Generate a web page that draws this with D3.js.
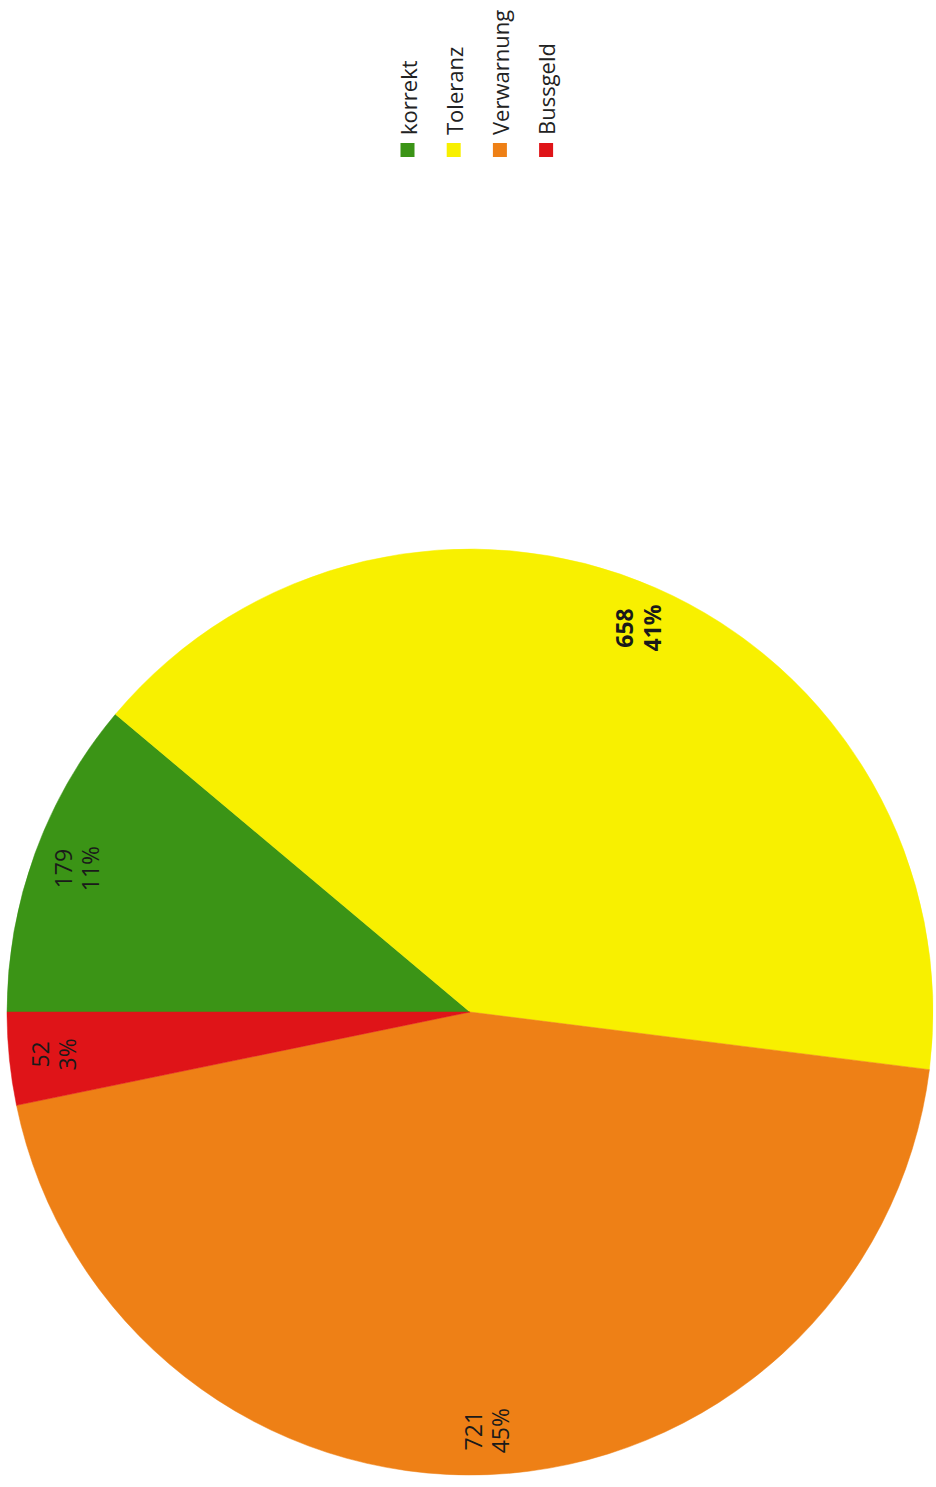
<!DOCTYPE html>
<html>
<head>
<meta charset="utf-8">
<script src="https://cdn.jsdelivr.net/npm/d3@7"></script>
<style>
    body { margin: 0; background: #fff; }
    svg { display: block; }
    .legend-text { font-family: "Open Sans", sans-serif; font-size: 22px; fill: #222; }
    .value-label { font-family: "Open Sans", sans-serif; font-size: 23px; fill: #1a1a1a; }
</style>
</head>
<body>
<div id="chart"></div>
<script>
// Pie chart, page is rotated 90deg (chart drawn in landscape, turned CCW)

const categories = ["korrekt", "Toleranz", "Verwarnung", "Bussgeld"];
const values = [179, 658, 721, 52];
const colors = ["#3b9416", "#f8f000", "#ee8016", "#df1418"];

const width = 936, height = 1487;

const config = {
    cx: 470,       // page x of pie centre
    cy: 1012,      // page y of pie centre
    radius: 463,
    labelFactor: 0.905
};

const svg = d3.select("#chart")
    .append("svg")
    .attr("width", width)
    .attr("height", height);

// landscape frame: u along page (bottom -> top), v along page x
const g = svg.append("g")
    .attr("transform", `translate(0,${height}) rotate(-90)`);

const total = d3.sum(values);
const data = categories.map((c, i) => ({ name: c, value: values[i], color: colors[i] }));

const pie = d3.pie().sort(null).value(d => d.value);
const arcs = pie(data);

const arc = d3.arc().innerRadius(0).outerRadius(config.radius);
const labelArc = d3.arc()
    .innerRadius(config.radius * config.labelFactor)
    .outerRadius(config.radius * config.labelFactor);

const pieG = g.append("g")
    .attr("transform", `translate(${height - config.cy},${config.cx})`);

pieG.selectAll(".slice")
    .data(arcs)
    .enter()
    .append("path")
    .attr("class", "slice")
    .attr("d", arc)
    .attr("fill", d => d.data.color)
    .attr("stroke", d => d.data.color)
    .attr("stroke-width", 0.5);

// value + percent labels
const labels = pieG.selectAll(".value-label")
    .data(arcs)
    .enter()
    .append("text")
    .attr("class", "value-label")
    .attr("transform", d => `translate(${labelArc.centroid(d)})`)
    .attr("text-anchor", "middle")
    .style("font-weight", d => d.data.name === "Toleranz" ? "700" : "400");

labels.append("tspan")
    .attr("x", 0)
    .attr("dy", "-0.2em")
    .text(d => d.data.value);

labels.append("tspan")
    .attr("x", 0)
    .attr("dy", "1.2em")
    .text(d => Math.round(d.data.value / total * 100) + "%");

// legend
const legendU = height - 157;   // square start (landscape u)
const legendV0 = 407.5, legendStep = 46.2, sq = 14;

const legend = g.selectAll(".legend-item")
    .data(data)
    .enter()
    .append("g")
    .attr("class", "legend-item")
    .attr("transform", (d, i) => `translate(${legendU},${legendV0 + i * legendStep})`);

legend.append("rect")
    .attr("x", 0)
    .attr("y", -sq / 2)
    .attr("width", sq)
    .attr("height", sq)
    .attr("fill", d => d.color);

legend.append("text")
    .attr("class", "legend-text")
    .attr("x", sq + 8)
    .attr("y", 0)
    .attr("dominant-baseline", "central")
    .text(d => d.name);
</script>
</body>
</html>
